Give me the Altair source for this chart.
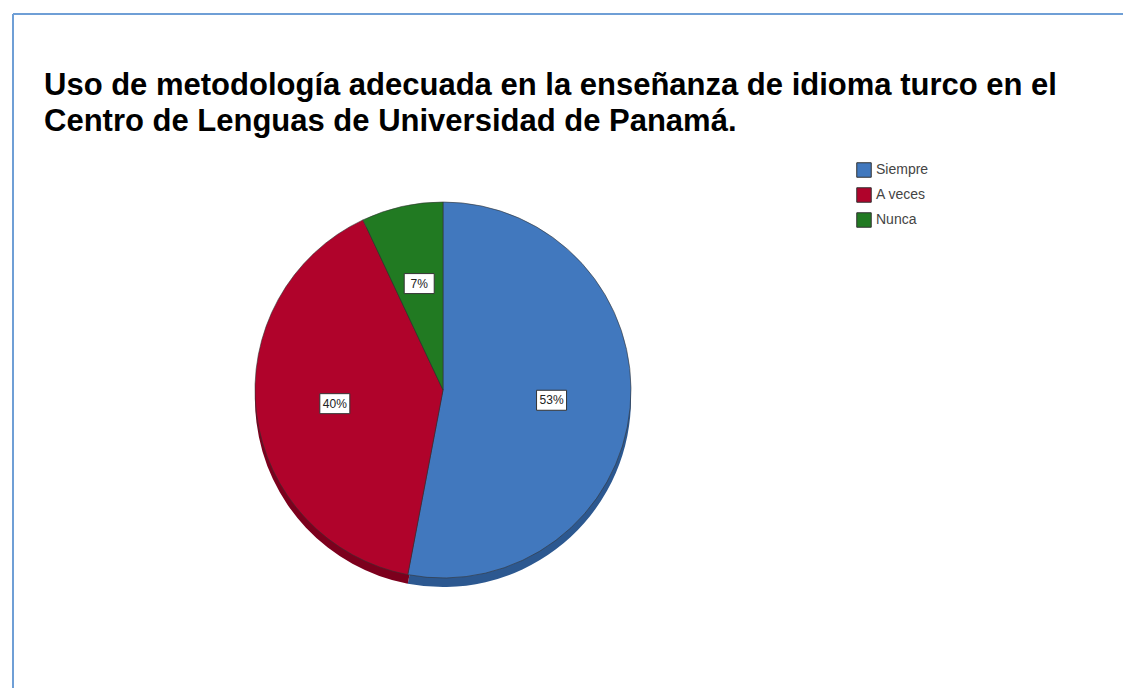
import altair as alt
import pandas as pd

categories = ["Siempre", "A veces", "Nunca"]
percentages = [53, 40, 7]
labels = ["53%", "40%", "7%"]
colors = ["#4178be", "#b0032b", "#217a22"]
dark_colors = ["#2c5890", "#7c001d", "#145214"]
title_lines = [
    "Uso de metodología adecuada en la enseñanza de idioma turco en el",
    "Centro de Lenguas de Universidad de Panamá.",
]

df = pd.DataFrame({
    "cat": categories,
    "pct": percentages,
    "label": labels,
    "ord": [0, 1, 2],
    "dark": dark_colors,
})

W = H = 380
R = 188
LR = 0.58 * R
PAD_L, PAD_T = 245, 192

xs = alt.Scale(domain=[-W / 2, W / 2])
ys = alt.Scale(domain=[-H / 2, H / 2])

base = alt.Chart(df)

shadow = base.mark_arc(radius=R, yOffset=9).encode(
    theta=alt.Theta("pct:Q", stack=True),
    order=alt.Order("ord:Q"),
    color=alt.Color("dark:N", scale=None, legend=None),
)

pie = base.mark_arc(radius=R, stroke="#333333", strokeWidth=0.6).encode(
    theta=alt.Theta("pct:Q", stack=True),
    order=alt.Order("ord:Q"),
    color=alt.Color(
        "cat:N",
        scale=alt.Scale(domain=categories, range=colors),
        sort=categories,
        legend=alt.Legend(
            title=None,
            orient="none",
            legendX=856 - 8 - PAD_L,
            legendY=162 - 8 - PAD_T,
            symbolType="square",
            symbolSize=210,
            symbolStrokeColor="#333333",
            symbolStrokeWidth=1,
            symbolOpacity=1,
            labelFont="Liberation Sans",
            labelFontSize=14,
            labelColor="#444444",
            rowPadding=5,
            labelOffset=4,
        ),
    ),
)

lab = base.transform_window(
    cum="sum(pct)", sort=[alt.SortField("ord")], frame=[None, 0]
).transform_joinaggregate(total="sum(pct)").transform_calculate(
    mid="(datum.cum - datum.pct / 2) / datum.total * 2 * PI",
).transform_calculate(
    lx=f"sin(datum.mid) * {LR}",
    ly=f"cos(datum.mid) * {LR}",
).transform_calculate(
    x1="datum.lx - 15", x2="datum.lx + 15",
    y1="datum.ly - 10", y2="datum.ly + 10",
)

boxes = lab.mark_rect(fill="white", stroke="#333333", strokeWidth=1).encode(
    x=alt.X("x1:Q", scale=xs, axis=None),
    x2="x2:Q",
    y=alt.Y("y1:Q", scale=ys, axis=None),
    y2="y2:Q",
)

texts = lab.mark_text(font="Liberation Sans", fontSize=12, color="#222222").encode(
    x=alt.X("lx:Q", scale=xs, axis=None),
    y=alt.Y("ly:Q", scale=ys, axis=None),
    text="label:N",
)

one = pd.DataFrame({"k": [0]})
title_text = alt.Chart(one).mark_text(
    font="Liberation Sans",
    fontSize=31,
    fontWeight="bold",
    color="#000000",
    align="left",
    baseline="alphabetic",
    lineHeight=36,
).encode(
    x=alt.value(44 - 8 - PAD_L),
    y=alt.value(95 - 8 - PAD_T),
    text=alt.value(title_lines),
)

frame_left = alt.Chart(one).mark_rule(color="#6f9fd6", strokeWidth=2).encode(
    x=alt.value(13 - 8 - PAD_L), y=alt.value(14 - 8 - PAD_T), y2=alt.value(720 - 8 - PAD_T)
)
frame_top = alt.Chart(one).mark_rule(color="#6f9fd6", strokeWidth=2).encode(
    y=alt.value(14 - 8 - PAD_T), x=alt.value(13 - 8 - PAD_L), x2=alt.value(1140 - 8 - PAD_L)
)

chart = alt.layer(shadow, pie, boxes, texts, title_text, frame_left, frame_top).resolve_scale(
    color="independent"
).properties(
    width=W,
    height=H,
    autosize=alt.AutoSizeParams(type="none"),
    padding={"left": PAD_L, "top": PAD_T, "right": 1117 - PAD_L - W - 2, "bottom": 108},
    background="white",
).configure_view(stroke=None)

chart.save("out.html", embed_options={"renderer": "svg", "actions": False})
